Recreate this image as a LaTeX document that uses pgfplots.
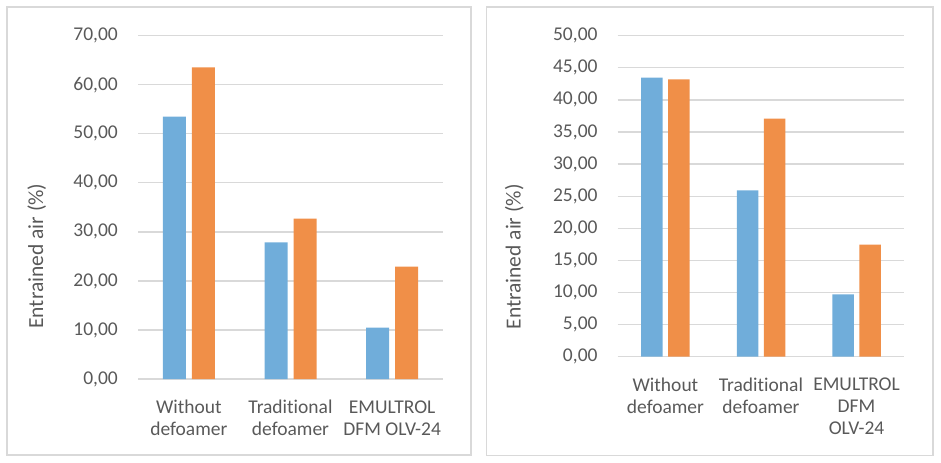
\documentclass[border=0pt]{standalone}
\usepackage{pgfplots}
\pgfplotsset{compat=1.18}
\usepackage{fontspec}
\setmainfont[Ligatures=NoCommon]{Carlito}
\definecolor{bblue}{RGB}{112,173,218}
\definecolor{borange}{RGB}{240,143,72}
\definecolor{txt}{RGB}{89,89,89}
\definecolor{gridc}{RGB}{217,217,217}
\pgfplotsset{mystyle/.style={
  scale only axis, anchor=south west,
  axis line style={draw=none}, tick style={draw=none},
  ymajorgrids, major grid style={gridc, line width=1.3bp},
  xmin=-0.5, xmax=2.5, xtick={0,1,2}, ymin=0,
  /pgf/number format/.cd, fixed, fixed zerofill, precision=2, use comma, assume math mode=true, /pgfplots/.cd,
  tick label style={font=\fontsize{19.5bp}{22bp}\selectfont, text=txt, inner sep=0pt},
  label style={font=\fontsize{21.5bp}{24bp}\selectfont, text=txt},
  xticklabel style={align=center},
  yticklabel shift=20bp, xticklabel shift=17bp,
  every axis plot/.append style={draw=none},
}}
\begin{document}
\begin{tikzpicture}
\path[use as bounding box] (0,0) rectangle (941bp,-463bp);
\draw[gridc, line width=1.5bp] (7bp,-7bp) rectangle (471bp,-455bp);
\draw[gridc, line width=1.5bp] (486.7bp,-7bp) rectangle (933bp,-455.7bp);
\begin{axis}[mystyle, at={(138bp,-379bp)}, width=305bp, height=343.3bp,
  ymax=70, ytick={0,10,...,70},
  ybar=6bp, bar width=23bp,
  xticklabels={Without\\defoamer, Traditional\\defoamer, EMULTROL\\DFM OLV-24},
  ylabel={Entrained air (\%)},
  ylabel style={at={(axis description cs:-0.332,0.358)}, anchor=center},
]
\addplot[fill=bblue] coordinates {(0,53.48) (1,27.86) (2,10.47)};
\addplot[fill=borange] coordinates {(0,63.54) (1,32.69) (2,22.90)};
\end{axis}
\begin{axis}[mystyle, at={(617.7bp,-356.7bp)}, width=286.6bp, height=321bp,
  ymax=50, ytick={0,5,...,50},
  ybar=5.5bp, bar width=21.5bp,
  xticklabels={Without\\defoamer, Traditional\\defoamer, EMULTROL\\DFM\\OLV-24},
  ylabel={Entrained air (\%)},
  ylabel style={at={(axis description cs:-0.361,0.311)}, anchor=center},
]
\addplot[fill=bblue] coordinates {(0,43.46) (1,25.91) (2,9.71)};
\addplot[fill=borange] coordinates {(0,43.20) (1,37.07) (2,17.45)};
\end{axis}
\end{tikzpicture}
\end{document}
